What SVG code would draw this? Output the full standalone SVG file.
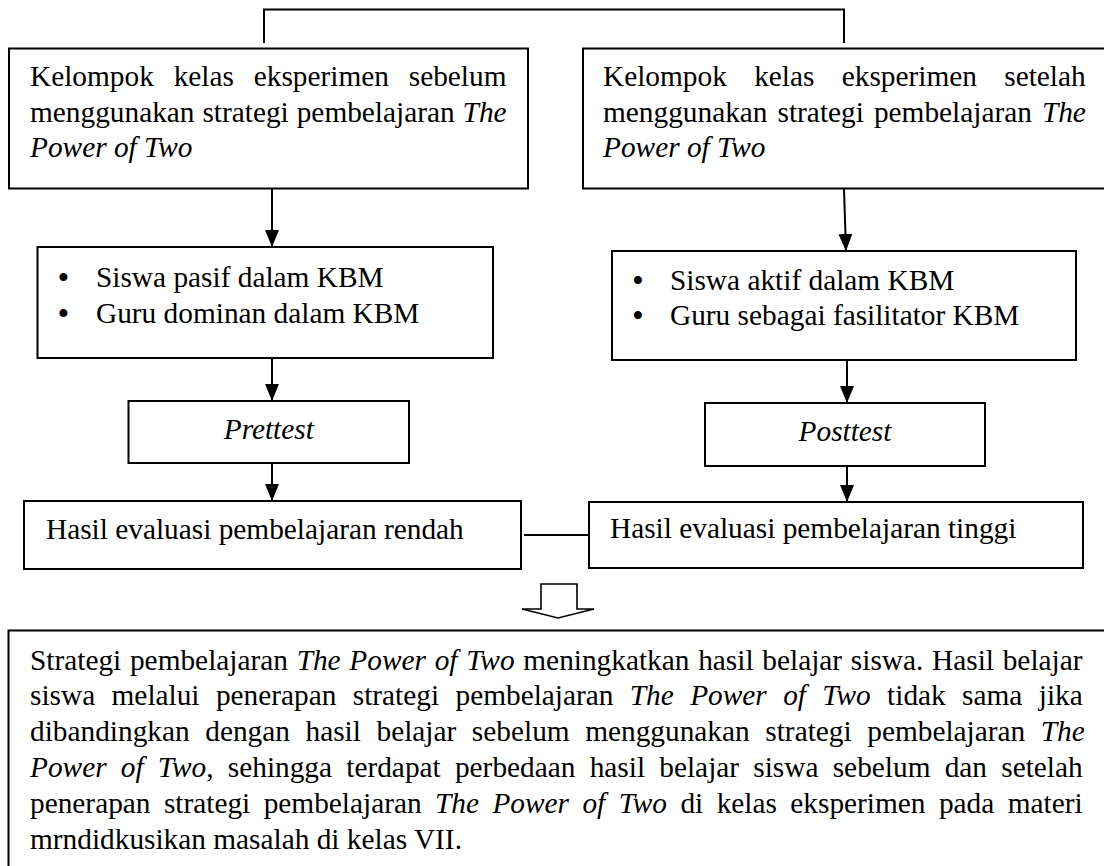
<svg xmlns="http://www.w3.org/2000/svg" width="1104" height="866" viewBox="0 0 1104 866">
<style>
.box{fill:#fff;stroke:#000;stroke-width:2}
.t{font-family:"Liberation Serif","Times New Roman",serif;font-size:29.33px;fill:#000}
.i{font-style:italic}
.c{fill:none;stroke:#000;stroke-width:2}
</style>
<defs>
<marker id="ah" viewBox="0 0 17 14" refX="17" refY="7" markerWidth="17" markerHeight="14" markerUnits="userSpaceOnUse" orient="auto">
<path d="M0,0 L17,7 L0,14 z" fill="#000"/>
</marker>
</defs>
<rect width="1104" height="866" fill="#fff"/>

<g id="connectors">
<polyline class="c" points="264,43 264,9.5 844,9.5 844,43"/>
<line class="c" x1="272" y1="189" x2="272" y2="247" marker-end="url(#ah)"/>
<line class="c" x1="272" y1="358" x2="272" y2="401" marker-end="url(#ah)"/>
<line class="c" x1="272" y1="463" x2="272" y2="501" marker-end="url(#ah)"/>
<line class="c" x1="844" y1="189" x2="846" y2="251" marker-end="url(#ah)"/>
<line class="c" x1="847" y1="360" x2="847" y2="403" marker-end="url(#ah)"/>
<line class="c" x1="847" y1="466" x2="847" y2="502" marker-end="url(#ah)"/>
<line class="c" x1="524" y1="535" x2="589" y2="535"/>
<polygon points="541,584 577,584 577,609 594,609 558,618 522,609 541,609" fill="#fff" stroke="#000" stroke-width="1.6" stroke-linejoin="miter"/>
</g>

<g id="node-pre-group">
<rect class="box" x="9" y="48.5" width="519" height="140"/>
<text class="t" x="30" y="86" word-spacing="12.5">Kelompok kelas eksperimen sebelum</text>
<text class="t" x="30" y="121.5" word-spacing="0.6">menggunakan strategi pembelajaran <tspan class="i">The</tspan></text>
<text class="t i" x="30" y="157">Power of Two</text>
</g>

<g id="node-post-group">
<rect class="box" x="583" y="48.5" width="530" height="140"/>
<text class="t" x="603" y="86" word-spacing="20">Kelompok kelas eksperimen setelah</text>
<text class="t" x="603" y="121.5" word-spacing="2.7">menggunakan strategi pembelajaran <tspan class="i">The</tspan></text>
<text class="t i" x="603" y="157">Power of Two</text>
</g>

<g id="node-pre-cond">
<rect class="box" x="37.5" y="247" width="455.5" height="111"/>
<text class="t" x="63.5" y="287" text-anchor="middle" font-weight="bold">•</text>
<text class="t" x="96" y="287">Siswa pasif dalam KBM</text>
<text class="t" x="63.5" y="323" text-anchor="middle" font-weight="bold">•</text>
<text class="t" x="96" y="323">Guru dominan dalam KBM</text>
</g>

<g id="node-post-cond">
<rect class="box" x="612" y="251" width="464" height="109"/>
<text class="t" x="638" y="290" text-anchor="middle" font-weight="bold">•</text>
<text class="t" x="670" y="290">Siswa aktif dalam KBM</text>
<text class="t" x="638" y="325" text-anchor="middle" font-weight="bold">•</text>
<text class="t" x="670" y="325">Guru sebagai fasilitator KBM</text>
</g>

<g id="node-prettest">
<rect class="box" x="128.5" y="401" width="280.5" height="62"/>
<text class="t i" x="268.8" y="439" text-anchor="middle">Prettest</text>
</g>

<g id="node-posttest">
<rect class="box" x="705" y="403" width="280" height="63"/>
<text class="t i" x="845" y="441" text-anchor="middle">Posttest</text>
</g>

<g id="node-low">
<rect class="box" x="24" y="501" width="497" height="68"/>
<text class="t" x="46" y="539">Hasil evaluasi pembelajaran rendah</text>
</g>

<g id="node-high">
<rect class="box" x="589" y="502" width="494" height="66"/>
<text class="t" x="610" y="538">Hasil evaluasi pembelajaran tinggi</text>
</g>

<g id="node-conclusion">
<rect class="box" x="8.5" y="630.5" width="1110" height="260"/>
<text class="t" x="30" y="669.5" word-spacing="1.4">Strategi pembelajaran <tspan class="i">The Power of Two</tspan> meningkatkan hasil belajar siswa. Hasil belajar</text>
<text class="t" x="30" y="705.3" word-spacing="9.05">siswa melalui penerapan strategi pembelajaran <tspan class="i">The Power of Two</tspan> tidak sama jika</text>
<text class="t" x="30" y="741.1" word-spacing="8.26">dibandingkan dengan hasil belajar sebelum menggunakan strategi pembelajaran <tspan class="i">The</tspan></text>
<text class="t" x="30" y="776.9" word-spacing="6.9"><tspan class="i">Power of Two</tspan>, sehingga terdapat perbedaan hasil belajar siswa sebelum dan setelah</text>
<text class="t" x="30" y="812.7" word-spacing="6.08">penerapan strategi pembelajaran <tspan class="i">The Power of Two</tspan> di kelas eksperimen pada materi</text>
<text class="t" x="30" y="848.5">mrndidkusikan masalah di kelas VII.</text>
</g>
</svg>
